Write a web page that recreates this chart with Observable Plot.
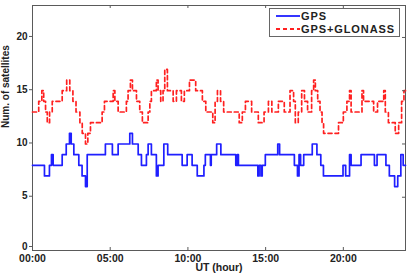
<!DOCTYPE html>
<html><head><meta charset="utf-8">
<script src="https://cdn.jsdelivr.net/npm/d3@7"></script>
<script src="https://cdn.jsdelivr.net/npm/@observablehq/plot@0.6"></script>
<style>
body{margin:0;background:#fff;}
#wrap{position:relative;width:407px;height:275px;font-family:"Liberation Sans",Arial,sans-serif;}
.legend{position:absolute;left:269px;top:8px;width:131px;height:29px;border:1px solid #666;background:#fff;box-sizing:border-box;}
</style></head><body><div id="wrap"></div>
<script>
// GPS visible satellites: step start hour, count
const gpsHour = [0,0.77,1.09,1.22,1.33,1.91,2.17,2.38,2.49,2.66,2.98,3.19,3.41,3.52,4.69,5.14,5.51,6.26,6.43,6.8,7.01,7.33,7.44,7.65,7.97,8.08,8.45,8.7,9.63,9.95,10.27,10.6,11.03,11.12,11.45,11.5,11.85,12.12,13.08,13.18,13.25,14.5,14.58,14.7,14.78,14.98,15.78,15.9,16.85,17.05,17.15,17.25,17.45,18.0,18.3,18.55,18.72,19.98,20.15,20.4,20.5,21.14,22.0,22.17,22.74,22.96,23.3,23.5,23.7,23.85,24];
const gpsCount = [8,7,8,9,8,9,10,11,10,9,8,7,6,9,10,9,10,11,10,9,8,9,10,9,7,8,10,9,8,9,8,7,8,9,8,9,10,9,8,9,8,7,8,7,8,9,10,9,8,7,9,8,9,10,9,8,7,8,7,9,8,9,8,9,8,7,6,7,9,8,8];
// GPS+GLONASS visible satellites
const gloHour = [0,0.4,0.6,0.72,0.84,0.95,1.1,1.27,1.91,2.2,2.4,2.6,2.8,3.05,3.2,3.41,3.56,3.73,4.48,4.63,5.19,5.3,5.51,6.04,6.15,6.3,6.43,6.69,6.9,7.07,7.44,7.55,7.65,7.97,8.08,8.25,8.4,8.51,8.68,9.05,9.26,9.58,9.77,10.1,10.5,10.93,11.15,11.6,11.75,11.9,12.1,12.3,13.3,13.5,13.7,14.1,14.53,14.9,15.18,15.4,15.82,16.2,16.57,16.8,16.91,17.1,17.32,17.5,17.7,17.96,18.09,18.2,18.35,18.5,18.63,18.73,19.69,20.0,20.23,20.4,20.5,21.2,21.3,21.95,22.2,22.6,22.7,22.9,23.34,23.56,23.75,23.9,24];
const gloCount = [13,14,15,14,13,12,13,14,15,16,15,14,13,12,11,10,11,12,13,14,15,14,13,14,15,16,15,14,13,12,13,14,15,16,15,14,15,17,15,14,15,14,15,16,15,14,13,12,14,15,14,13,12,13,14,13,12,13,14,13,14,13,15,14,12,13,15,14,13,15,16,15,14,13,12,11,12,13,14,15,13,15,14,13,14,15,13,12,11,12,14,15,15];
const seriesNames = ["GPS", "GPS+GLONASS"];
const seriesColors = ["#1f1fff", "#ff2020"];
const xTicks = [0,5,10,15,20];
const xTickLabels = ["00:00","05:00","10:00","15:00","20:00"];
const yTicks = [0,5,10,15,20];

const gps = gpsHour.map((t,i)=>({t, v:gpsCount[i]}));
const glo = gloHour.map((t,i)=>({t, v:gloCount[i]}));
const frameColor = "#5a5a5a";

const chart = Plot.plot({
  width:407, height:275,
  marginLeft:32, marginRight:2, marginTop:5, marginBottom:25,
  style:{fontFamily:"'Liberation Sans', Arial, sans-serif", fontWeight:"bold", color:"#222", background:"#fff"},
  x:{domain:[0,24]},
  y:{domain:[0,23]},
  marks:[
    Plot.frame({stroke:frameColor, strokeWidth:1}),
    Plot.line(glo,{x:"t", y:"v", curve:"step-after", stroke:seriesColors[1], strokeWidth:1.7, strokeDasharray:"4,3"}),
    Plot.line(gps,{x:"t", y:"v", curve:"step-after", stroke:seriesColors[0], strokeWidth:1.7}),
    Plot.ruleX(xTicks,{stroke:frameColor, insetTop:242}),
    Plot.ruleX(xTicks,{stroke:frameColor, insetBottom:242}),
    Plot.ruleY(yTicks,{stroke:frameColor, insetLeft:370}),
    Plot.axisX({ticks:xTicks, tickSize:0, tickPadding:4, tickFormat:(d)=>xTickLabels[xTicks.indexOf(d)], label:null, fontSize:10.5, style:{letterSpacing:"0.8px"}}),
    Plot.axisY({ticks:yTicks.filter(d=>d>0), tickSize:3, tickPadding:2, stroke:frameColor, label:null, fontSize:10, dy:-1}),
    Plot.axisY({ticks:yTicks.filter(d=>d===0), tickSize:3, tickPadding:2, stroke:frameColor, label:null, fontSize:10, dy:-4}),
    Plot.text(["UT (hour)"],{frameAnchor:"bottom", dy:20.5, fontSize:10.5, fontWeight:"bold", fill:"#222", style:{letterSpacing:"1px"}}),
    Plot.text(["Num. of satellites"],{frameAnchor:"left", dx:-27, rotate:-90, fontSize:10, fontWeight:"bold", fill:"#222"})
  ]
});
const wrap = document.getElementById("wrap");
wrap.appendChild(chart);

// legend
const leg = document.createElement("div");
leg.className = "legend";
const ns = "http://www.w3.org/2000/svg";
const ls = document.createElementNS(ns,"svg");
ls.setAttribute("width","129"); ls.setAttribute("height","27");
ls.style.display="block";
seriesNames.forEach((name,i)=>{
  const y = 7 + i*13;
  const ln = document.createElementNS(ns,"line");
  ln.setAttribute("x1","6"); ln.setAttribute("x2","30");
  ln.setAttribute("y1",y); ln.setAttribute("y2",y);
  ln.setAttribute("stroke",seriesColors[i]); ln.setAttribute("stroke-width","1.8");
  if(i===1) ln.setAttribute("stroke-dasharray","4,3");
  ls.appendChild(ln);
  const tx = document.createElementNS(ns,"text");
  tx.setAttribute("x","31"); tx.setAttribute("y",y+4);
  tx.setAttribute("font-size","11"); tx.setAttribute("font-weight","bold");
  tx.setAttribute("font-family","'Liberation Sans', Arial, sans-serif");
  tx.setAttribute("fill","#222");
  tx.setAttribute("letter-spacing","0.9");
  tx.textContent = name;
  ls.appendChild(tx);
});
leg.appendChild(ls);
wrap.appendChild(leg);
</script>
</body></html>
